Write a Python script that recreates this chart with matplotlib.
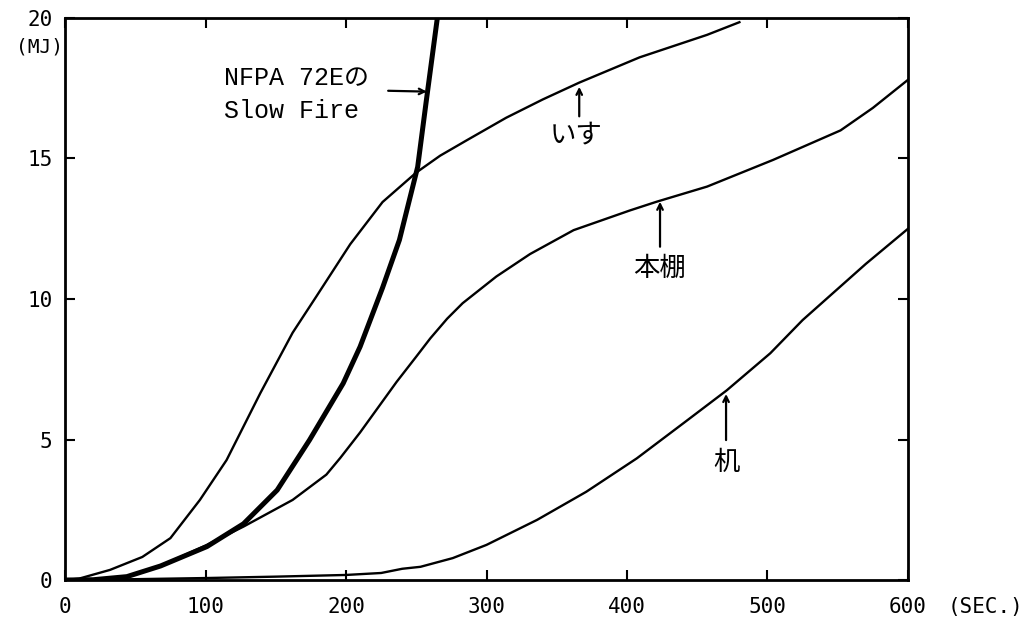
import numpy as np
import matplotlib.pyplot as plt

# time (s) and cumulative heat release (MJ)
nfpa_t = [0, 20, 44, 68, 101, 127, 151, 174, 198, 210, 226, 238, 251, 257, 261, 265]
nfpa_v = [0, 0.01, 0.12, 0.5, 1.19, 2.0, 3.2, 4.98, 7.0, 8.3, 10.4, 12.1, 14.7, 17.0, 18.5, 20.0]

chair_t = [0, 10, 32, 55, 75, 96, 115, 139, 162, 179, 203, 226, 250, 267, 286, 314, 340, 366, 409, 457, 480]
chair_v = [0, 0.05, 0.36, 0.82, 1.49, 2.85, 4.27, 6.65, 8.8, 10.1, 11.95, 13.45, 14.5, 15.1, 15.65, 16.45, 17.1, 17.7, 18.6, 19.4, 19.85]

shelf_t = [0, 20, 44, 68, 101, 127, 162, 186, 196, 210, 236, 250, 260, 272, 283, 307, 331, 362, 402, 421, 457, 504, 552, 575, 600]
shelf_v = [0, 0.01, 0.12, 0.5, 1.25, 1.9, 2.85, 3.75, 4.35, 5.25, 7.05, 7.95, 8.6, 9.3, 9.85, 10.8, 11.6, 12.45, 13.15, 13.46, 14.0, 14.95, 16.0, 16.8, 17.8]

desk_t = [0, 50, 100, 150, 200, 225, 240, 253, 276, 300, 336, 371, 407, 442, 471, 502, 525, 570, 600]
desk_v = [0, 0.03, 0.07, 0.12, 0.18, 0.25, 0.4, 0.47, 0.78, 1.25, 2.14, 3.14, 4.33, 5.65, 6.75, 8.07, 9.25, 11.25, 12.5]

x_ticks = [0, 100, 200, 300, 400, 500, 600]
y_ticks = [0, 5, 10, 15, 20]

plt.rcParams['font.family'] = ['DejaVu Sans Mono', 'Noto Sans CJK JP']

fig = plt.figure(figsize=(10.29, 6.31), dpi=100)
ax = fig.add_axes([0.0632, 0.0808, 0.8192, 0.8907])

# curves
ax.plot(chair_t, chair_v, color='black', lw=1.7, solid_joinstyle='round')
ax.plot(shelf_t, shelf_v, color='black', lw=1.7, solid_joinstyle='round')
ax.plot(desk_t, desk_v, color='black', lw=1.7, solid_joinstyle='round')
ax.plot(nfpa_t, nfpa_v, color='black', lw=3.6, solid_joinstyle='round')

ax.set_xlim(0, 600)
ax.set_ylim(0, 20)
ax.set_xticks(x_ticks)
ax.set_yticks(y_ticks)
ax.tick_params(direction='in', length=7, width=1.5, top=True, right=True,
               labelsize=15)
ax.tick_params(axis='x', pad=12)
ax.tick_params(axis='y', pad=9)
for s in ax.spines.values():
    s.set_linewidth(2)

# unit labels
fig.text(40 / 1029, 1 - 47 / 631, '(MJ)', ha='center', va='center', fontsize=14)
fig.text(985 / 1029, 1 - 607 / 631, '(SEC.)', ha='center', va='center', fontsize=15)

# annotations
txt_font = ['Liberation Mono', 'Noto Sans CJK JP']
ax.text(113, 17.86, 'NFPA 72Eの', ha='left', va='center', fontsize=18,
        family=txt_font)
ax.text(113, 16.69, 'Slow Fire', ha='left', va='center', fontsize=18,
        family=txt_font)
arrow = dict(arrowstyle='->', color='black', lw=1.6, shrinkA=0, shrinkB=0)
ax.annotate('', xy=(257.5, 17.38), xytext=(230, 17.41), arrowprops=arrow)

jp = ['Noto Sans CJK JP']
ax.annotate('', xy=(366, 17.55), xytext=(366, 16.5), arrowprops=arrow)
ax.text(364, 15.85, 'いす', ha='center', va='center', fontsize=19, family=jp)

ax.annotate('', xy=(423.5, 13.46), xytext=(423.5, 11.86), arrowprops=arrow)
ax.text(423.5, 11.1, '本棚', ha='center', va='center', fontsize=19, family=jp)

ax.annotate('', xy=(470.5, 6.62), xytext=(470.5, 4.98), arrowprops=arrow)
ax.text(471, 4.2, '机', ha='center', va='center', fontsize=19, family=jp)

fig.savefig('out.png', dpi=100)
